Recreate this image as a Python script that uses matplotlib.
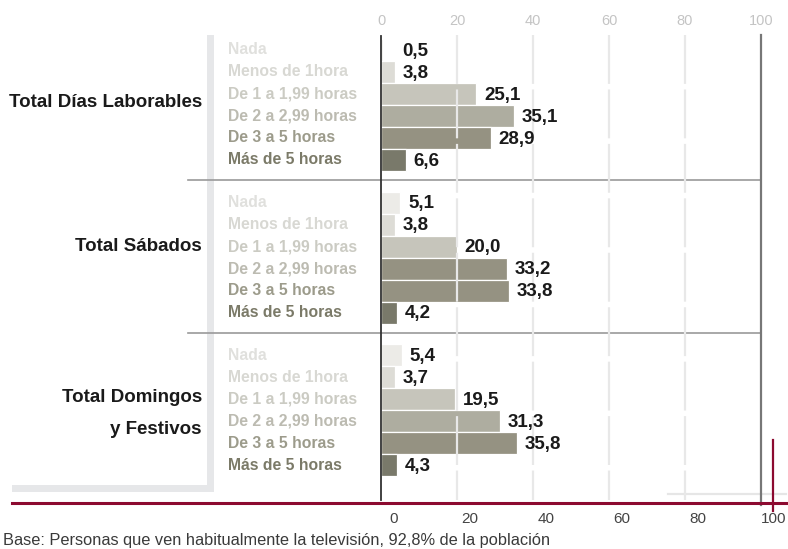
import matplotlib
matplotlib.use("Agg")
import matplotlib.pyplot as plt
from matplotlib.patches import Rectangle

plt.rcParams['font.family'] = ['Liberation Sans', 'DejaVu Sans']

# datos
grupos = ["Total Días Laborables", "Total Sábados", "Total Domingos\ny Festivos"]
categorias = ["Nada", "Menos de 1hora", "De 1 a 1,99 horas",
              "De 2 a 2,99 horas", "De 3 a 5 horas", "Más de 5 horas"]
laborables = [0.5, 3.8, 25.1, 35.1, 28.9, 6.6]
sabados = [5.1, 3.8, 20.0, 33.2, 33.8, 4.2]
domingos = [5.4, 3.7, 19.5, 31.3, 35.8, 4.3]
valores = [laborables, sabados, domingos]
ticks = [0, 20, 40, 60, 80, 100]

c_bar = ["#ecebe7", "#dddcd6", "#c6c5bb", "#aeada0", "#959282", "#79796a"]
colores_barra = [c_bar, c_bar[:3] + [c_bar[4]] + c_bar[4:], c_bar]
colores_texto = ["#e0e0dd", "#d8d8d3", "#cbcbc3", "#bcbbb1", "#9c9b8b", "#7b7a68"]
rojo = "#8c0a30"

W, H = 788, 549
fig = plt.figure(figsize=(W / 100, H / 100), dpi=100)
ax = fig.add_axes([0, 0, 1, 1])

# escala: 0 -> 381 px, 100 -> 761 px ; fila -> 22 px
def sx(px):
    return (px - 381) / 3.8

def sy(py):
    return (py - 50) / 22.0

ax.set_xlim(sx(0), sx(W))
ax.set_ylim(sy(H), sy(0))
for s in ax.spines.values():
    s.set_visible(False)
ax.set_xticks([])
ax.set_yticks([])

G = 152.5 / 22.0

# barras
for g, vals in enumerate(valores):
    pos = [g * G + i for i in range(len(categorias))]
    ax.barh(pos, vals, height=1.0, color=colores_barra[g], edgecolor="white",
            linewidth=0.9, zorder=2)
    for i, (p, v) in enumerate(zip(pos, vals)):
        ax.text(max(v, 3.5) + 2.0, p + 0.05, f"{v:.1f}".replace(".", ","),
                ha="left", va="center", fontsize=13.5, fontweight="bold",
                color="#1a1a1a", zorder=5)
        ax.text(sx(228), p, categorias[i], ha="left", va="center",
                fontsize=11.3, fontweight="bold", color=colores_texto[i], zorder=5)
    if g < 2:
        ax.plot([sx(188), 100], [g * G + 5.91] * 2, color="#9a9a9a", lw=1.2, zorder=3)

# etiquetas de grupo
ax.text(sx(202), 2.4, grupos[0], ha="right", va="center", fontsize=13.5,
        fontweight="bold", color="#1a1a1a")
ax.text(sx(202), G + 2.0, grupos[1], ha="right", va="center", fontsize=13.5,
        fontweight="bold", color="#1a1a1a")
l1, l2 = grupos[2].split("\n")
ax.text(sx(202), 2 * G + 1.95, l1, ha="right", va="center", fontsize=13.5,
        fontweight="bold", color="#1a1a1a")
ax.text(sx(202), 2 * G + 3.4, l2, ha="right", va="center", fontsize=13.5,
        fontweight="bold", color="#1a1a1a")

# rejilla
for t in ticks[1:-1]:
    ax.plot([t, t], [sy(35), sy(500)], color="#e8e8e8", lw=1.6,
            dashes=(22, 2.5), zorder=4)
ax.plot([100, 100], [sy(35), sy(505)], color="#777777", lw=1.6, zorder=4)
ax.plot([0, 0], [sy(36), sy(500)], color="#333333", lw=1.3, zorder=4)

# decoracion
ax.add_patch(Rectangle((sx(207), sy(35)), sx(214) - sx(207), sy(492) - sy(35),
                       color="#e6e7e9", lw=0, zorder=1))
ax.add_patch(Rectangle((sx(12), sy(485)), sx(214) - sx(12), sy(492) - sy(485),
                       color="#e6e7e9", lw=0, zorder=1))
ax.plot([sx(668), sx(786)], [sy(494)] * 2, color="#e6e6e6", lw=1.6, zorder=3)
ax.plot([sx(12), sx(786)], [sy(503)] * 2, color=rojo, lw=2.2, zorder=6)
ax.plot([sx(773), sx(773)], [sy(440), sy(511)], color=rojo, lw=1.6, zorder=6)

# eje superior
top = ax.secondary_xaxis(1 - 28 / H)
top.set_xticks(ticks)
top.tick_params(length=0, pad=0, labelsize=10.5, labelcolor="#c4c4c4")
for s in top.spines.values():
    s.set_visible(False)

# eje inferior (desplazado)
bot = ax.secondary_xaxis(1 - 511 / H, functions=(lambda x: x - 3.4, lambda x: x + 3.4))
bot.set_xticks(ticks)
bot.tick_params(length=0, pad=1, labelsize=11, labelcolor="#444444")
for s in bot.spines.values():
    s.set_visible(False)

fig.text(3 / W, 1 - 541 / H,
         "Base: Personas que ven habitualmente la televisión, 92,8% de la población",
         ha="left", va="center", fontsize=11.8, color="#3a3a3a")

fig.savefig("out.png", dpi=100)
